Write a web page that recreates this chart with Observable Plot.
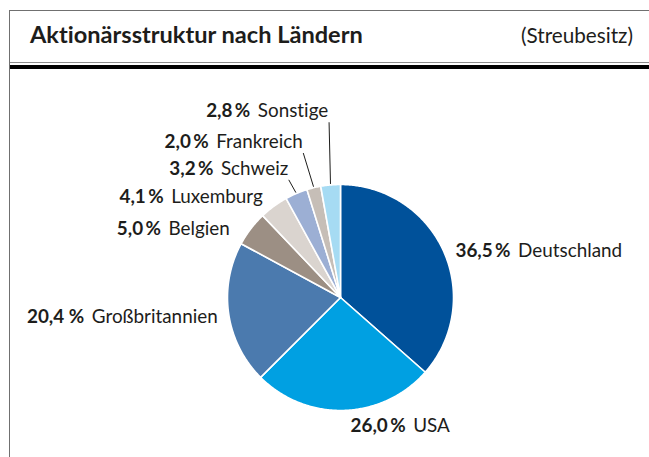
<!DOCTYPE html>
<html><head><meta charset="utf-8">
<script src="https://cdn.jsdelivr.net/npm/d3@7"></script>
<script src="https://cdn.jsdelivr.net/npm/@observablehq/plot@0.6"></script>
<style>
body{margin:0;width:649px;height:457px;overflow:hidden;background:#fff;font-family:Lato,sans-serif;color:#1d1d1b;position:relative;font-variant-ligatures:none}
svg text{font-variant-ligatures:none}
#frame{position:absolute;left:9px;top:10px;width:640px;height:447px;border-left:1px solid #707070;border-top:1px solid #707070;box-sizing:border-box}
#head{position:absolute;left:0;top:0;width:100%;height:52px;border-bottom:1px solid #8c8c8c;box-sizing:border-box}
#rule{position:absolute;left:0;top:54px;width:100%;height:4px;background:#000}
#title{position:absolute;left:20px;font-weight:700;white-space:nowrap;line-height:1}
#sub{position:absolute;right:16px;font-weight:400;white-space:nowrap;line-height:1}
#chart{position:absolute;left:0;top:68px}
</style></head>
<body>
<div id="frame"><div id="head"><div id="title">Aktionärsstruktur nach Ländern</div><div id="sub">(Streubesitz)</div></div><div id="rule"></div></div>
<div id="chart"></div>
<script>
// ---- data ----
const names = ["Deutschland","USA","Großbritannien","Belgien","Luxemburg","Schweiz","Frankreich","Sonstige"];
const shares = [36.5, 26.0, 20.4, 5.0, 4.1, 3.2, 2.0, 2.8];
const pctLabels = ["36,5\u2009%","26,0\u2009%","20,4 %","5,0\u2009%","4,1\u2009%","3,2\u2009%","2,0\u2009%","2,8\u2009%"];
const colors = ["#00519a","#00a0e2","#4b7aae","#9c8f84","#dad4cf","#9cafd4","#c6beb7","#a6dbf3"];
const withLeader = ["Schweiz","Frankreich","Sonstige"];

// ---- layout ----
const FONT = 'Lato, sans-serif';
const INK = "#1d1d1b";
const R = 113;
// label offsets relative to the slice's mid-angle point on the rim
const labelOffsets = [[12,-0.5,"start"],[6.5,16,"start"],[-11,3,"end"],[-21,0,"end"],[-11,-9,"end"],[-8,-25,"end"],[-11,-46,"end"],[-2,-74,"end"]];

const ctx = document.createElement("canvas").getContext("2d");
function measure(t, weight, size){ ctx.font = `${weight} ${size}px ${FONT}`; return ctx.measureText(t).width; }
function fit(t, weight, target){ return 20 * target / measure(t, weight, 20); }

const fsTitle = fit("Aktionärsstruktur nach Ländern", 700, 334);
const fsSub = fit("(Streubesitz)", 400, 112);
const fs = fit("Großbritannien", 400, 126);

const title = document.getElementById("title");
title.style.fontSize = fsTitle + "px";
title.style.top = (24.5 - 0.529 * fsTitle) + "px";
const sub = document.getElementById("sub");
sub.style.fontSize = fsSub + "px";
sub.style.top = (24.5 - 0.529 * fsSub) + "px";

const arcs = d3.pie().sort(null).value(d => d)(shares);
const slicePts = [];
arcs.forEach((a, i) => {
  const n = Math.max(2, Math.ceil((a.endAngle - a.startAngle) / 0.01));
  slicePts.push({name: names[i], x: 0, y: 0});
  for (let k = 0; k <= n; k++) {
    const t = a.startAngle + (a.endAngle - a.startAngle) * k / n;
    slicePts.push({name: names[i], x: R * Math.sin(t), y: -R * Math.cos(t)});
  }
  slicePts.push({name: names[i], x: 0, y: 0});
});

const gap = 0.4 * fs;
const labels = arcs.map((a, i) => {
  const mid = (a.startAngle + a.endAngle) / 2;
  const [dx, dy, anchor] = labelOffsets[i];
  const ax = R * Math.sin(mid) + dx, ay = -R * Math.cos(mid) + dy;
  const wp = measure(pctLabels[i], 700, fs), wn = measure(names[i], 400, fs);
  const x0 = anchor === "start" ? ax : ax - (wp + gap + wn);
  return {name: names[i], pct: pctLabels[i], xp: x0, xn: x0 + wp + gap, y: ay, ax, mid};
});
const leaders = labels.filter(d => withLeader.includes(d.name)).map(d => ({
  x1: d.ax + 0.5, y1: d.y + 0.6 * fs,
  x2: (R + 1) * Math.sin(d.mid), y2: -(R + 1) * Math.cos(d.mid)
}));

const chart = Plot.plot({
  width: 649, height: 389, margin: 0,
  x: {domain: [-340, 309], axis: null},
  y: {domain: [-229, 160], range: [0, 389], axis: null},
  color: {domain: names, range: colors},
  style: {background: "none", fontFamily: FONT, color: INK},
  marks: [
    Plot.line(slicePts, {x: "x", y: "y", z: "name", fill: "name", stroke: "white", strokeWidth: 1.6, strokeLinejoin: "round"}),
    Plot.link(leaders, {x1: "x1", y1: "y1", x2: "x2", y2: "y2", stroke: INK, strokeWidth: 1}),
    Plot.text(labels, {x: "xp", y: "y", text: "pct", textAnchor: "start", fontWeight: "bold", fontSize: fs, fill: INK}),
    Plot.text(labels, {x: "xn", y: "y", text: "name", textAnchor: "start", fontSize: fs, fill: INK})
  ]
});
document.getElementById("chart").appendChild(chart);
</script>
</body></html>
